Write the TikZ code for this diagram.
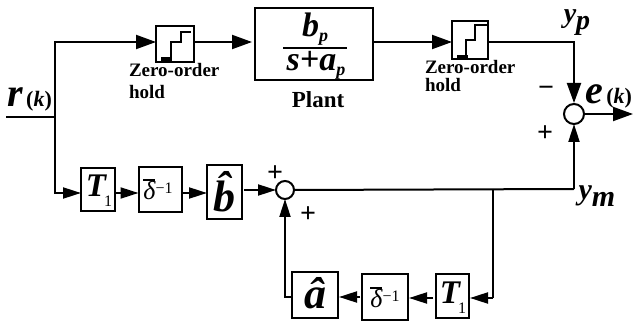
\documentclass[tikz,border=0pt]{standalone}
\usepackage{fontspec}
\setmainfont{Liberation Serif}
\usetikzlibrary{arrows.meta,calc}
\newcommand{\sz}[2]{\fontsize{#1}{#2}\selectfont}
\newcommand{\dbar}{\smash{\rlap{\raisebox{0.72em}{\rule{0.46em}{0.1em}}}}}
\tikzset{
  x=1pt,y=-1pt,
  blk/.style 2 args={draw,line width=2pt,inner sep=0pt,outer sep=0pt,minimum width=#1,minimum height=#2,fill=white},
  sumnode/.style={draw,circle,line width=2pt,inner sep=0pt,outer sep=0pt,minimum size=#1},
  wire/.style={line width=2pt},
  arr/.style={line width=2pt,-{Triangle[length=20pt,width=14pt]}},
  arrs/.style={line width=2pt,-{Triangle[length=18pt,width=11pt]}},
  free/.style={inner sep=0pt,outer sep=0pt},
}
\begin{document}
\begin{tikzpicture}
\useasboundingbox (0,0) rectangle (633,326);
% nodes
\node[blk={38pt}{36pt}] (zoha) at (175,44) {};
\node[blk={118pt}{72pt}] (plant) at (314,44) {};
\node[blk={36pt}{38pt}] (zohb) at (470,40) {};
\node[sumnode=20pt] (sume) at (574,114) {};
\node[sumnode=18pt] (sumf) at (285,190) {};
\node[blk={34pt}{43pt}] (tone) at (98,190) {};
\node[blk={43pt}{45pt}] (dbara) at (160,190) {};
\node[blk={35pt}{54pt}] (bhat) at (224.5,192) {};
\node[blk={46pt}{46pt}] (ahat) at (315,295) {};
\node[blk={46pt}{46pt}] (dbarb) at (385,297) {};
\node[blk={33pt}{44pt}] (ttwo) at (452.5,296) {};
% junctions
\coordinate (start) at (6,117);
\coordinate (inj) at (55,117);
\coordinate (topc) at (55,42);
\coordinate (botc) at (55,193);
\coordinate (yp) at (574,42);
\coordinate (ym) at (574,189);
\coordinate (tap) at (493,189);
\coordinate (tapb) at (493,298);
\coordinate (out) at (633,114);
\coordinate (fbk) at (285,297);
% connectors
\draw[wire] (start) -- (inj);
\draw[wire,line cap=rect] (topc) -- (botc);
\draw[arr] (topc) -- (zoha.west |- topc);
\draw[arr] (zoha.east |- topc) -- ($(plant.west |- topc)+(-3,0)$);
\draw[arr] (plant.east |- yp) -- (zohb.west |- yp);
\draw[arr] (zohb.east |- yp) -- (yp) -- ($(sume.north)+(0,-1)$);
\draw[arr] (sume.east) -- (out);
\draw[arrs] (ym) -- (sume.south);
\draw[wire] (sumf.east) -- (ym);
\draw[wire] (ym) -- +(0,-10);
\draw[arrs] (botc) -- (tone.west |- botc);
\draw[arrs] (tone.east |- botc) -- (dbara.west |- botc);
\draw[arrs] (dbara.east |- botc) -- (bhat.west |- botc);
\draw[arrs] ($(bhat.east |- sumf)+(2,0)$) -- (sumf.west);
\draw[wire] (tap) -- (tapb);
\draw[arrs] (tapb) -- ($(ttwo.east |- tapb)+(1,0)$);
\draw[arrs] ($(ttwo.west |- tapb)+(-3,0)$) -- ($(dbarb.east |- tapb)+(1,0)$);
\draw[arrs] ($(dbarb.west |- fbk)+(-2,0)$) -- ($(ahat.east |- fbk)+(1,0)$);
\draw[arrs] ($(ahat.west |- fbk)+(-1,0)$) -- (fbk) -- (sumf.south);
% staircases
\draw[line width=4pt] (zoha.center) ++(-14,15) -- ++(11,0);
\draw[line width=2.6pt] (zoha.center) ++(-4,15) -- ++(0,-17) -- ++(10,0) -- ++(0,-10) -- ++(10,0);
\draw[line width=4pt] (zohb.center) ++(-13,17) -- ++(11,0);
\draw[line width=2.6pt] (zohb.center) ++(-4,17) -- ++(0,-17) -- ++(9,0) -- ++(0,-15) -- ++(12,0);
% block text
\node[free,font=\sz{33}{35}] at (99,191) (toneT) {\textbf{\textit{T}}\kern-3pt\raisebox{-0.3em}{\rmfamily\sz{16}{17}1}};
\node[free,font=\sz{26}{28}] at (158,191) (dbaraT) {\dbar\textit{δ}\sz{16}{18}\raisebox{0.42em}{−1}};
\node[free,font=\bfseries\itshape\sz{44}{46}] at (224,192) (bhatT) {\^b};
\node[free,font=\bfseries\itshape\sz{44}{46}] at (315,293) (ahatT) {â};
\node[free,font=\sz{26}{28}] at (385,299) (dbarbT) {\dbar\textit{δ}\sz{16}{18}\raisebox{0.42em}{−1}};
\node[free,font=\sz{33}{35}] at (453,298) (ttwoT) {\textbf{\textit{T}}\kern-3pt\raisebox{-0.3em}{\rmfamily\sz{16}{17}1}};
% plant fraction
\draw[line width=2pt] (283,48) -- (347,48);
\node[free,font=\bfseries\itshape\sz{34}{34}] at (315,29) (bp) {b\raisebox{-0.15em}{\sz{18}{18}p}};
\node[free,font=\bfseries\itshape\sz{34}{34}] at (316,65) (den) {s+a\raisebox{-0.15em}{\sz{18}{18}p}};
% labels
\node[free,font=\bfseries\sz{19}{22},align=left,anchor=north west] at (129,63) (zla) {Zero-order\\hold};
\node[free,font=\bfseries\sz{19}{18},align=left,anchor=north west] at (425,60) (zlb) {Zero-order\\hold};
\node[free,font=\bfseries\sz{23}{24}] at (318,100) (pl) {Plant};
\node[free,font=\bfseries\itshape\sz{40}{42},anchor=base west] at (7,107) (rk) {r\sz{22}{24}\,\textup{(}k\textup{)}};
\node[free,font=\bfseries\itshape\sz{40}{42},anchor=base west] at (585,104) (ek) {e\sz{22}{24}\,\textup{(}k\textup{)}};
\node[free,font=\bfseries\itshape\sz{28}{30}] at (577,23) (ypl) {y\raisebox{-0.25em}{p}};
\node[free,font=\itshape\bfseries\sz{30}{32}] at (597,196) (yml) {y\raisebox{-0.25em}{m}};
\node[free,font=\bfseries\sz{28}{28}] at (546,91) (mn) {−};
\node[free,font=\bfseries\sz{28}{28}] at (545,134) (pa) {+};
\node[free,font=\bfseries\sz{28}{28}] at (275,174) (pb) {+};
\node[free,font=\bfseries\sz{28}{28}] at (308,215) (pc) {+};
\end{tikzpicture}
\end{document}
